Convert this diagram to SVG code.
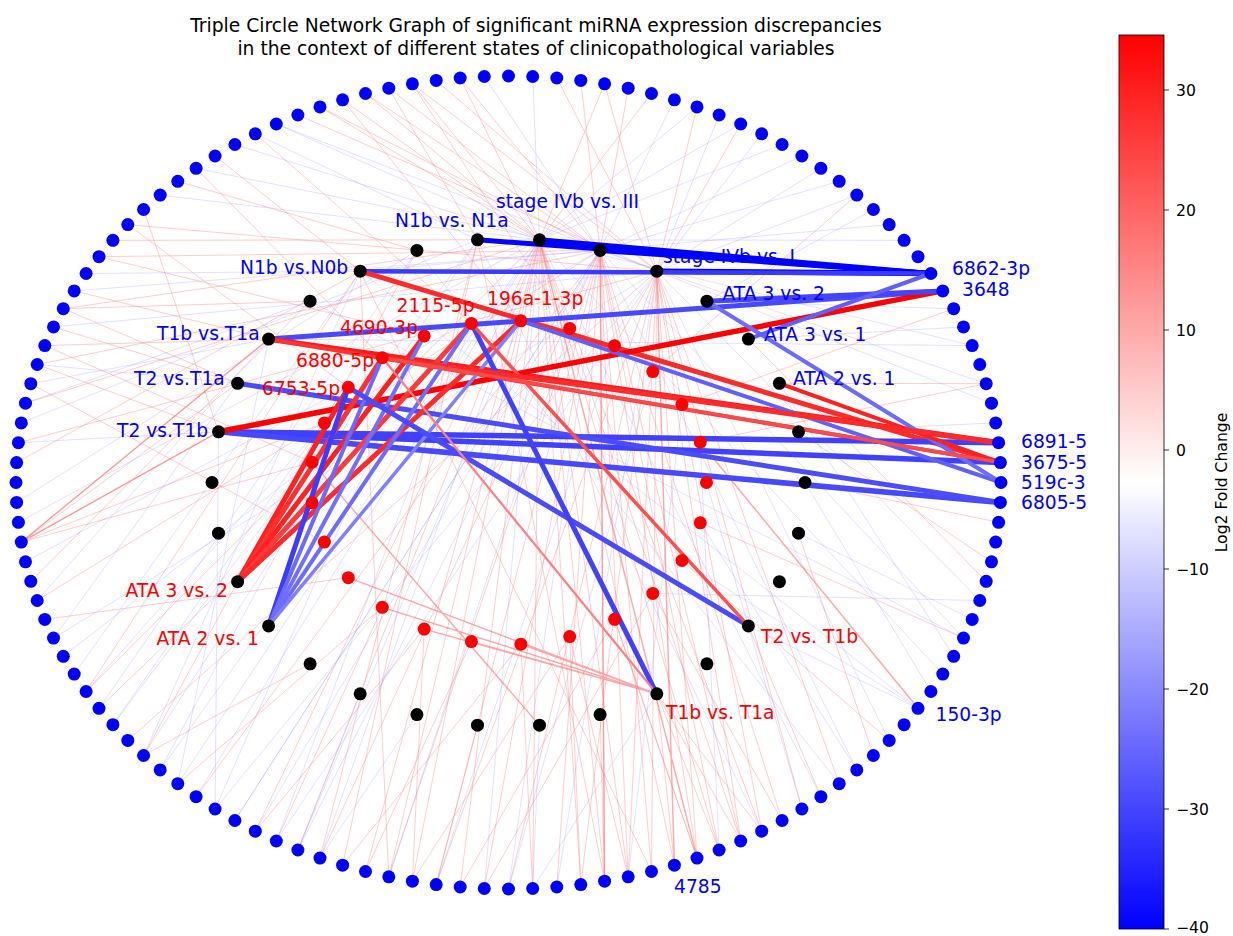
<svg xmlns="http://www.w3.org/2000/svg" width="1233" height="936" viewBox="0 0 1233 936">
<defs>
<linearGradient id="bwr" x1="0" y1="1" x2="0" y2="0">
<stop offset="0" stop-color="#0000ff"/>
<stop offset="0.5" stop-color="#ffffff"/>
<stop offset="1" stop-color="#ff0000"/>
</linearGradient>
<style>
text{font-family:"DejaVu Sans","Liberation Sans",sans-serif}
.fp{fill:none;stroke:#ff8080;stroke-opacity:0.4;stroke-width:1}
.fb{fill:none;stroke:#9a9aff;stroke-opacity:0.3;stroke-width:1}
.hv{fill:none;stroke-linecap:butt}
.o{fill:#0000ff}
.k{fill:#000000}
.r{fill:#ff0000}
.lb{font-size:18.7px;fill:#0000ff}
.lr{font-size:18.7px;fill:#ff0000}
.tk{font-size:15.6px;fill:#000}
</style>
</defs>
<rect width="1233" height="936" fill="#ffffff"/>

<g id="connectors">
<g id="faint">
<path class="fp" d="M539.5 239.8L365.5 871.5M539.5 239.8L412.4 881.2M539.5 239.8L460.2 887M539.5 239.8L532.7 888.5M539.5 239.8L580.8 884.6M539.5 239.8L628.2 876.8M539.5 239.8L674.4 865.2M539.5 239.8L719.1 850M539.5 239.8L761.7 831.2M539.5 239.8L412.4 83.8M539.5 239.8L365.5 93.5M539.5 239.8L342.6 99.8M539.5 239.8L651.5 93.5M539.5 239.8L604.6 83.8M539.5 239.8L63.3 308.7M539.5 239.8L25.5 403.2M539.5 239.8L86.1 691.5M539.5 239.8L255.3 831.2M539.5 239.8L388.8 876.8M539.5 239.8L604.6 881.2M539.5 239.8L740.7 841M539.5 239.8L460.2 78M539.5 239.8L320 106.9"/>
<path class="fp" d="M600.1 250.4L320 858.1M600.1 250.4L388.8 876.8M600.1 250.4L484.3 888.5M600.1 250.4L556.8 887M600.1 250.4L604.6 881.2M600.1 250.4L651.5 871.5M600.1 250.4L697 858.1M600.1 250.4L740.7 841M600.1 250.4L782.1 820.5M600.1 250.4L460.2 78M600.1 250.4L388.8 88.2M600.1 250.4L320 106.9M600.1 250.4L628.2 88.2M600.1 250.4L580.8 80.4M600.1 250.4L99 256.7M600.1 250.4L37.2 364.5M600.1 250.4L37.2 600.5M600.1 250.4L196.1 796.7M600.1 250.4L436.2 884.6M600.1 250.4L628.2 876.8M600.1 250.4L719.1 850M600.1 250.4L365.5 93.5"/>
<path class="fp" d="M656.8 271.2L436.2 884.6M656.8 271.2L508.5 889M656.8 271.2L580.8 884.6M656.8 271.2L628.2 876.8M656.8 271.2L697 858.1M656.8 271.2L740.7 841M656.8 271.2L801.9 809M656.8 271.2L839.2 783.7M656.8 271.2L697 106.9M656.8 271.2L556.8 78M656.8 271.2L436.2 80.4M656.8 271.2L297.9 115M656.8 271.2L127.8 224.6M656.8 271.2L18.4 442.7M656.8 271.2L127.8 740.4M656.8 271.2L651.5 871.5M656.8 271.2L761.7 831.2M656.8 271.2L604.6 83.8M656.8 271.2L412.4 83.8"/>
<path class="fb" d="M539.5 239.8L782.1 144.5M539.5 239.8L740.7 124M539.5 239.8L532.7 76.5M539.5 239.8L234.9 144.5M539.5 239.8L160.2 195.1M539.5 239.8L18.4 522.3M539.5 239.8L160.2 769.9M539.5 239.8L484.3 888.5M539.5 239.8L820.9 796.7M539.5 239.8L942.8 674.1M539.5 239.8L320 858.1M539.5 239.8L697 106.9M539.5 239.8L276.3 124"/>
<path class="fb" d="M600.1 250.4L801.9 156M600.1 250.4L674.4 99.8M600.1 250.4L484.3 76.5M600.1 250.4L196.1 168.3M600.1 250.4L74.2 290.9M600.1 250.4L25.5 561.8M600.1 250.4L234.9 820.5M600.1 250.4L508.5 889M600.1 250.4L856.8 769.9M600.1 250.4L963.5 638.1M600.1 250.4L297.9 850M600.1 250.4L839.2 181.3"/>
<path class="fb" d="M656.8 271.2L856.8 195.1M656.8 271.2L761.7 133.8M656.8 271.2L276.3 124M656.8 271.2L53.5 326.9M656.8 271.2L53.5 638.1M656.8 271.2L276.3 841M656.8 271.2L556.8 887M656.8 271.2L889.2 740.4M656.8 271.2L979.8 600.5M656.8 271.2L991.5 403.2M656.8 271.2L820.9 168.3M656.8 271.2L719.1 115"/>
<path class="fp" d="M477.5 239.8L388.8 88.2M477.5 239.8L112.9 240.3M477.5 239.8L342.6 865.2M477.5 239.8L604.6 881.2M360.2 271.2L215.1 156M360.2 271.2L16.6 462.6M360.2 271.2L388.8 876.8M360.2 271.2L651.5 871.5M268.6 339.1L44.8 345.6M268.6 339.1L21.3 542.1M218.5 431.8L21.3 542.1M218.5 431.8L143.6 209.5M237.6 383.3L21.3 542.1M237.6 383.3L53.5 326.9M416.9 250.4L177.8 181.3M310.1 301.2L63.3 308.7M748.4 339.1L986.2 581.3M779.4 383.3L986.2 383.7M798.5 431.8L991.5 561.8M805 482.5L998.6 522.3M798.5 533.2L873.4 755.5M748.4 625.9L820.9 796.7M656.8 693.8L719.1 850M656.8 693.8L740.7 841M656.8 693.8L761.7 831.2M656.8 693.8L674.4 865.2M600.1 714.6L604.6 881.2M477.5 725.2L436.2 884.6M310.1 663.8L143.6 755.5M569.7 636.6L628.2 876.8M614.6 619.3L697 858.1M424.2 629.1L412.4 881.2M520.9 644.2L532.7 888.5M382.3 607.3L276.3 841M21.3 542.1L312.1 462.2M21.3 542.1L324.4 422.9M44.8 619.4L348.3 577.7M99 708.3L312.1 502.8M177.8 783.7L382.3 607.3M255.3 831.2L424.2 629.1M44.8 345.6L312.1 462.2M30.8 383.7L324.4 542.1M127.8 224.6L348.3 387.3M196.1 168.3L382.3 357.7M99 256.7L424.2 335.9M255.3 133.8L471.4 323.4M342.6 99.8L520.9 320.8M412.4 83.8L569.7 328.4M740.7 124L614.6 345.7M856.8 195.1L652.8 371.6M953.7 308.7L682 404.5M986.2 383.7L700.3 442.2M963.5 638.1L700.3 522.8M889.2 740.4L682 560.5M782.1 820.5L652.8 593.4M697 858.1L614.6 619.3M580.8 884.6L569.7 636.6M365.5 871.5L471.4 641.6M342.6 865.2L520.9 644.2M412.4 881.2L569.7 636.6M460.2 887L614.6 619.3M484.3 888.5L652.8 593.4M74.2 290.9L268.6 339.1M63.3 308.7L237.6 383.3M37.2 364.5L218.5 431.8M30.8 581.3L310.1 301.2M86.1 691.5L360.2 271.2M143.6 755.5L416.9 250.4M297.9 850L539.5 239.8M320 858.1L477.5 239.8"/>
<path class="fb" d="M477.5 239.8L904.1 240.3M477.5 239.8L255.3 133.8M477.5 239.8L21.3 422.9M477.5 239.8L112.9 724.7M360.2 271.2L86.1 273.5M360.2 271.2L143.6 755.5M360.2 271.2L889.2 224.6M268.6 339.1L30.8 383.7M268.6 339.1L177.8 783.7M268.6 339.1L972.2 345.6M218.5 431.8L18.4 442.7M218.5 431.8L215.1 809M237.6 383.3L37.2 364.5M416.9 250.4L16.6 502.4M310.1 301.2L25.5 403.2M706.9 301.2L873.4 209.5M706.9 301.2L953.7 308.7M748.4 339.1L963.5 326.9M779.4 383.3L953.7 656.3M798.5 431.8L995.7 422.9M805 482.5L930.9 691.5M798.5 533.2L972.2 619.4M748.4 625.9L918 708.3M656.8 693.8L532.7 888.5M539.5 725.2L532.7 888.5M416.9 714.6L320 858.1M360.2 693.8L297.9 850M63.3 656.3L312.1 462.2M86.1 691.5L324.4 422.9M112.9 724.7L348.3 387.3M160.2 769.9L382.3 357.7M215.1 809L424.2 335.9M276.3 841L471.4 323.4M297.9 850L520.9 320.8M388.8 876.8L569.7 328.4M436.2 884.6L614.6 345.7M508.5 889L652.8 371.6M628.2 876.8L682 404.5M719.1 850L700.3 442.2M801.9 809L706.5 482.5M856.8 769.9L700.3 522.8M918 708.3L682 560.5M979.8 600.5L652.8 593.4M37.2 600.5L268.6 339.1M53.5 638.1L237.6 383.3M74.2 674.1L360.2 271.2M99 708.3L416.9 250.4M143.6 755.5L477.5 239.8M196.1 796.7L539.5 239.8M234.9 820.5L600.1 250.4M761.7 831.2L477.5 239.8M839.2 783.7L416.9 250.4M918 708.3L360.2 271.2M963.5 638.1L310.1 301.2M255.3 831.2L600.1 250.4M215.1 809L656.8 271.2M177.8 783.7L539.5 239.8M972.2 345.6L539.5 239.8M986.2 383.7L600.1 250.4"/>
<path fill="none" stroke="#ff8080" stroke-opacity="0.7" stroke-width="1.4" d="M312.1 462.2L539.5 725.2M382.3 607.3L656.8 693.8M424.2 629.1L656.8 693.8M348.3 577.7L656.8 693.8M471.4 641.6L656.8 693.8M520.9 644.2L656.8 693.8M700.3 442.2L918 708.3M656.8 271.2L674.4 865.2M600.1 250.4L604.6 881.2M539.5 239.8L697 858.1M21.3 542.1L218.5 431.8M21.3 542.1L268.6 339.1"/>
</g>
<g id="heavy" class="hv">
<line x1="477.5" y1="239.8" x2="930.9" y2="273.5" stroke="#0000ff" stroke-width="5"/>
<line x1="539.5" y1="239.8" x2="930.9" y2="273.5" stroke="#0000ff" stroke-width="5"/>
<line x1="600.1" y1="250.4" x2="930.9" y2="273.5" stroke="#0000ff" stroke-width="5"/>
<line x1="656.8" y1="271.2" x2="930.9" y2="273.5" stroke="#0000ff" stroke-width="5.5"/>
<line x1="360.2" y1="271.2" x2="930.9" y2="273.5" stroke="#3a3aff" stroke-width="4.5"/>
<line x1="360.2" y1="271.2" x2="1000.4" y2="462.6" stroke="#ff2a2a" stroke-width="5"/>
<line x1="268.6" y1="339.1" x2="942.8" y2="290.9" stroke="#4848ff" stroke-width="5"/>
<line x1="268.6" y1="339.1" x2="998.6" y2="442.7" stroke="#ff1a1a" stroke-width="5.5"/>
<line x1="268.6" y1="339.1" x2="1000.4" y2="462.6" stroke="#ff3434" stroke-width="4"/>
<line x1="218.5" y1="431.8" x2="998.6" y2="442.7" stroke="#4040ff" stroke-width="5.5"/>
<line x1="218.5" y1="431.8" x2="1000.4" y2="462.6" stroke="#4040ff" stroke-width="5.5"/>
<line x1="218.5" y1="431.8" x2="1000.4" y2="502.4" stroke="#4848ff" stroke-width="5.5"/>
<line x1="218.5" y1="431.8" x2="942.8" y2="290.9" stroke="#ff0000" stroke-width="5.5"/>
<line x1="237.6" y1="383.3" x2="1000.4" y2="502.4" stroke="#4c4cff" stroke-width="5"/>
<line x1="237.6" y1="581.7" x2="348.3" y2="387.3" stroke="#ff2020" stroke-width="5"/>
<line x1="237.6" y1="581.7" x2="382.3" y2="357.7" stroke="#ff3030" stroke-width="5"/>
<line x1="237.6" y1="581.7" x2="424.2" y2="335.9" stroke="#ff2020" stroke-width="5"/>
<line x1="237.6" y1="581.7" x2="471.4" y2="323.4" stroke="#ff3a3a" stroke-width="5"/>
<line x1="237.6" y1="581.7" x2="520.9" y2="320.8" stroke="#ff2a2a" stroke-width="5"/>
<line x1="268.6" y1="625.9" x2="348.3" y2="387.3" stroke="#3c3cff" stroke-width="5"/>
<line x1="268.6" y1="625.9" x2="382.3" y2="357.7" stroke="#6a6aff" stroke-width="4"/>
<line x1="268.6" y1="625.9" x2="424.2" y2="335.9" stroke="#7070ff" stroke-width="4"/>
<line x1="268.6" y1="625.9" x2="471.4" y2="323.4" stroke="#6c6cff" stroke-width="4"/>
<line x1="268.6" y1="625.9" x2="520.9" y2="320.8" stroke="#8080ff" stroke-width="3.5"/>
<line x1="348.3" y1="387.3" x2="748.4" y2="625.9" stroke="#4a4aff" stroke-width="5"/>
<line x1="471.4" y1="323.4" x2="656.8" y2="693.8" stroke="#4040ff" stroke-width="5"/>
<line x1="471.4" y1="323.4" x2="748.4" y2="625.9" stroke="#ff5050" stroke-width="3.5"/>
<line x1="382.3" y1="357.7" x2="656.8" y2="693.8" stroke="#ff8080" stroke-width="2.2"/>
<line x1="520.9" y1="320.8" x2="1001" y2="482.5" stroke="#6060ff" stroke-width="4"/>
<line x1="706.9" y1="301.2" x2="1001" y2="482.5" stroke="#6b6bff" stroke-width="4"/>
<line x1="706.9" y1="301.2" x2="942.8" y2="290.9" stroke="#4444ff" stroke-width="5"/>
<line x1="748.4" y1="339.1" x2="930.9" y2="273.5" stroke="#6060ff" stroke-width="4"/>
<line x1="779.4" y1="383.3" x2="1000.4" y2="462.6" stroke="#ff2020" stroke-width="4"/>
<line x1="382.3" y1="357.7" x2="998.6" y2="442.7" stroke="#ff2a2a" stroke-width="5"/>
<line x1="382.3" y1="357.7" x2="1000.4" y2="462.6" stroke="#ff4a4a" stroke-width="3.5"/>
</g>
</g>

<g id="outer-nodes">
<circle class="o" r="6.5" cx="1001" cy="482.5"/><circle class="o" r="6.5" cx="1000.4" cy="462.6"/><circle class="o" r="6.5" cx="998.6" cy="442.7"/><circle class="o" r="6.5" cx="995.7" cy="422.9"/><circle class="o" r="6.5" cx="991.5" cy="403.2"/><circle class="o" r="6.5" cx="986.2" cy="383.7"/><circle class="o" r="6.5" cx="979.8" cy="364.5"/><circle class="o" r="6.5" cx="972.2" cy="345.6"/><circle class="o" r="6.5" cx="963.5" cy="326.9"/><circle class="o" r="6.5" cx="953.7" cy="308.7"/><circle class="o" r="6.5" cx="942.8" cy="290.9"/><circle class="o" r="6.5" cx="930.9" cy="273.5"/><circle class="o" r="6.5" cx="918" cy="256.7"/><circle class="o" r="6.5" cx="904.1" cy="240.3"/><circle class="o" r="6.5" cx="889.2" cy="224.6"/><circle class="o" r="6.5" cx="873.4" cy="209.5"/><circle class="o" r="6.5" cx="856.8" cy="195.1"/><circle class="o" r="6.5" cx="839.2" cy="181.3"/><circle class="o" r="6.5" cx="820.9" cy="168.3"/><circle class="o" r="6.5" cx="801.9" cy="156"/><circle class="o" r="6.5" cx="782.1" cy="144.5"/><circle class="o" r="6.5" cx="761.7" cy="133.8"/><circle class="o" r="6.5" cx="740.7" cy="124"/><circle class="o" r="6.5" cx="719.1" cy="115"/><circle class="o" r="6.5" cx="697" cy="106.9"/><circle class="o" r="6.5" cx="674.4" cy="99.8"/><circle class="o" r="6.5" cx="651.5" cy="93.5"/><circle class="o" r="6.5" cx="628.2" cy="88.2"/><circle class="o" r="6.5" cx="604.6" cy="83.8"/><circle class="o" r="6.5" cx="580.8" cy="80.4"/><circle class="o" r="6.5" cx="556.8" cy="78"/><circle class="o" r="6.5" cx="532.7" cy="76.5"/><circle class="o" r="6.5" cx="508.5" cy="76"/>
<circle class="o" r="6.5" cx="484.3" cy="76.5"/><circle class="o" r="6.5" cx="460.2" cy="78"/><circle class="o" r="6.5" cx="436.2" cy="80.4"/><circle class="o" r="6.5" cx="412.4" cy="83.8"/><circle class="o" r="6.5" cx="388.8" cy="88.2"/><circle class="o" r="6.5" cx="365.5" cy="93.5"/><circle class="o" r="6.5" cx="342.6" cy="99.8"/><circle class="o" r="6.5" cx="320" cy="106.9"/><circle class="o" r="6.5" cx="297.9" cy="115"/><circle class="o" r="6.5" cx="276.3" cy="124"/><circle class="o" r="6.5" cx="255.3" cy="133.8"/><circle class="o" r="6.5" cx="234.9" cy="144.5"/><circle class="o" r="6.5" cx="215.1" cy="156"/><circle class="o" r="6.5" cx="196.1" cy="168.3"/><circle class="o" r="6.5" cx="177.8" cy="181.3"/><circle class="o" r="6.5" cx="160.2" cy="195.1"/><circle class="o" r="6.5" cx="143.6" cy="209.5"/><circle class="o" r="6.5" cx="127.8" cy="224.6"/><circle class="o" r="6.5" cx="112.9" cy="240.3"/><circle class="o" r="6.5" cx="99" cy="256.7"/><circle class="o" r="6.5" cx="86.1" cy="273.5"/><circle class="o" r="6.5" cx="74.2" cy="290.9"/><circle class="o" r="6.5" cx="63.3" cy="308.7"/><circle class="o" r="6.5" cx="53.5" cy="326.9"/><circle class="o" r="6.5" cx="44.8" cy="345.6"/><circle class="o" r="6.5" cx="37.2" cy="364.5"/><circle class="o" r="6.5" cx="30.8" cy="383.7"/><circle class="o" r="6.5" cx="25.5" cy="403.2"/><circle class="o" r="6.5" cx="21.3" cy="422.9"/><circle class="o" r="6.5" cx="18.4" cy="442.7"/><circle class="o" r="6.5" cx="16.6" cy="462.6"/><circle class="o" r="6.5" cx="16" cy="482.5"/>
<circle class="o" r="6.5" cx="16.6" cy="502.4"/><circle class="o" r="6.5" cx="18.4" cy="522.3"/><circle class="o" r="6.5" cx="21.3" cy="542.1"/><circle class="o" r="6.5" cx="25.5" cy="561.8"/><circle class="o" r="6.5" cx="30.8" cy="581.3"/><circle class="o" r="6.5" cx="37.2" cy="600.5"/><circle class="o" r="6.5" cx="44.8" cy="619.4"/><circle class="o" r="6.5" cx="53.5" cy="638.1"/><circle class="o" r="6.5" cx="63.3" cy="656.3"/><circle class="o" r="6.5" cx="74.2" cy="674.1"/><circle class="o" r="6.5" cx="86.1" cy="691.5"/><circle class="o" r="6.5" cx="99" cy="708.3"/><circle class="o" r="6.5" cx="112.9" cy="724.7"/><circle class="o" r="6.5" cx="127.8" cy="740.4"/><circle class="o" r="6.5" cx="143.6" cy="755.5"/><circle class="o" r="6.5" cx="160.2" cy="769.9"/><circle class="o" r="6.5" cx="177.8" cy="783.7"/><circle class="o" r="6.5" cx="196.1" cy="796.7"/><circle class="o" r="6.5" cx="215.1" cy="809"/><circle class="o" r="6.5" cx="234.9" cy="820.5"/><circle class="o" r="6.5" cx="255.3" cy="831.2"/><circle class="o" r="6.5" cx="276.3" cy="841"/><circle class="o" r="6.5" cx="297.9" cy="850"/><circle class="o" r="6.5" cx="320" cy="858.1"/><circle class="o" r="6.5" cx="342.6" cy="865.2"/><circle class="o" r="6.5" cx="365.5" cy="871.5"/><circle class="o" r="6.5" cx="388.8" cy="876.8"/><circle class="o" r="6.5" cx="412.4" cy="881.2"/><circle class="o" r="6.5" cx="436.2" cy="884.6"/><circle class="o" r="6.5" cx="460.2" cy="887"/><circle class="o" r="6.5" cx="484.3" cy="888.5"/><circle class="o" r="6.5" cx="508.5" cy="889"/>
<circle class="o" r="6.5" cx="532.7" cy="888.5"/><circle class="o" r="6.5" cx="556.8" cy="887"/><circle class="o" r="6.5" cx="580.8" cy="884.6"/><circle class="o" r="6.5" cx="604.6" cy="881.2"/><circle class="o" r="6.5" cx="628.2" cy="876.8"/><circle class="o" r="6.5" cx="651.5" cy="871.5"/><circle class="o" r="6.5" cx="674.4" cy="865.2"/><circle class="o" r="6.5" cx="697" cy="858.1"/><circle class="o" r="6.5" cx="719.1" cy="850"/><circle class="o" r="6.5" cx="740.7" cy="841"/><circle class="o" r="6.5" cx="761.7" cy="831.2"/><circle class="o" r="6.5" cx="782.1" cy="820.5"/><circle class="o" r="6.5" cx="801.9" cy="809"/><circle class="o" r="6.5" cx="820.9" cy="796.7"/><circle class="o" r="6.5" cx="839.2" cy="783.7"/><circle class="o" r="6.5" cx="856.8" cy="769.9"/><circle class="o" r="6.5" cx="873.4" cy="755.5"/><circle class="o" r="6.5" cx="889.2" cy="740.4"/><circle class="o" r="6.5" cx="904.1" cy="724.7"/><circle class="o" r="6.5" cx="918" cy="708.3"/><circle class="o" r="6.5" cx="930.9" cy="691.5"/><circle class="o" r="6.5" cx="942.8" cy="674.1"/><circle class="o" r="6.5" cx="953.7" cy="656.3"/><circle class="o" r="6.5" cx="963.5" cy="638.1"/><circle class="o" r="6.5" cx="972.2" cy="619.4"/><circle class="o" r="6.5" cx="979.8" cy="600.5"/><circle class="o" r="6.5" cx="986.2" cy="581.3"/><circle class="o" r="6.5" cx="991.5" cy="561.8"/><circle class="o" r="6.5" cx="995.7" cy="542.1"/><circle class="o" r="6.5" cx="998.6" cy="522.3"/><circle class="o" r="6.5" cx="1000.4" cy="502.4"/>
</g>

<g id="comparison-nodes">
<circle class="k" r="6.5" cx="805" cy="482.5"/><circle class="k" r="6.5" cx="798.5" cy="431.8"/><circle class="k" r="6.5" cx="779.4" cy="383.3"/><circle class="k" r="6.5" cx="748.4" cy="339.1"/><circle class="k" r="6.5" cx="706.9" cy="301.2"/><circle class="k" r="6.5" cx="656.8" cy="271.2"/><circle class="k" r="6.5" cx="600.1" cy="250.4"/><circle class="k" r="6.5" cx="539.5" cy="239.8"/><circle class="k" r="6.5" cx="477.5" cy="239.8"/><circle class="k" r="6.5" cx="416.9" cy="250.4"/><circle class="k" r="6.5" cx="360.2" cy="271.2"/><circle class="k" r="6.5" cx="310.1" cy="301.2"/><circle class="k" r="6.5" cx="268.6" cy="339.1"/><circle class="k" r="6.5" cx="237.6" cy="383.3"/><circle class="k" r="6.5" cx="218.5" cy="431.8"/><circle class="k" r="6.5" cx="212" cy="482.5"/><circle class="k" r="6.5" cx="218.5" cy="533.2"/><circle class="k" r="6.5" cx="237.6" cy="581.7"/><circle class="k" r="6.5" cx="268.6" cy="625.9"/><circle class="k" r="6.5" cx="310.1" cy="663.8"/><circle class="k" r="6.5" cx="360.2" cy="693.8"/><circle class="k" r="6.5" cx="416.9" cy="714.6"/><circle class="k" r="6.5" cx="477.5" cy="725.2"/><circle class="k" r="6.5" cx="539.5" cy="725.2"/><circle class="k" r="6.5" cx="600.1" cy="714.6"/><circle class="k" r="6.5" cx="656.8" cy="693.8"/><circle class="k" r="6.5" cx="706.9" cy="663.8"/><circle class="k" r="6.5" cx="748.4" cy="625.9"/><circle class="k" r="6.5" cx="779.4" cy="581.7"/><circle class="k" r="6.5" cx="798.5" cy="533.2"/>
</g>

<g id="inner-nodes">
<circle class="r" r="6.5" cx="706.5" cy="482.5"/><circle class="r" r="6.5" cx="700.3" cy="442.2"/><circle class="r" r="6.5" cx="682" cy="404.5"/><circle class="r" r="6.5" cx="652.8" cy="371.6"/><circle class="r" r="6.5" cx="614.6" cy="345.7"/><circle class="r" r="6.5" cx="569.7" cy="328.4"/><circle class="r" r="6.5" cx="520.9" cy="320.8"/><circle class="r" r="6.5" cx="471.4" cy="323.4"/><circle class="r" r="6.5" cx="424.2" cy="335.9"/><circle class="r" r="6.5" cx="382.3" cy="357.7"/><circle class="r" r="6.5" cx="348.3" cy="387.3"/><circle class="r" r="6.5" cx="324.4" cy="422.9"/><circle class="r" r="6.5" cx="312.1" cy="462.2"/><circle class="r" r="6.5" cx="312.1" cy="502.8"/><circle class="r" r="6.5" cx="324.4" cy="542.1"/><circle class="r" r="6.5" cx="348.3" cy="577.7"/><circle class="r" r="6.5" cx="382.3" cy="607.3"/><circle class="r" r="6.5" cx="424.2" cy="629.1"/><circle class="r" r="6.5" cx="471.4" cy="641.6"/><circle class="r" r="6.5" cx="520.9" cy="644.2"/><circle class="r" r="6.5" cx="569.7" cy="636.6"/><circle class="r" r="6.5" cx="614.6" cy="619.3"/><circle class="r" r="6.5" cx="652.8" cy="593.4"/><circle class="r" r="6.5" cx="682" cy="560.5"/><circle class="r" r="6.5" cx="700.3" cy="522.8"/>
</g>

<g id="labels">
<text class="lb" x="496" y="208">stage IVb vs. III</text>
<text class="lb" x="395" y="227">N1b vs. N1a</text>
<text class="lb" x="240" y="274">N1b vs.N0b</text>
<text class="lb" x="157" y="340">T1b vs.T1a</text>
<text class="lb" x="134" y="385">T2 vs.T1a</text>
<text class="lb" x="117" y="436.5">T2 vs.T1b</text>
<text class="lb" x="663" y="263">stage IVb vs. I</text>
<text class="lb" x="722.5" y="300">ATA 3 vs. 2</text>
<text class="lb" x="764" y="340.5">ATA 3 vs. 1</text>
<text class="lb" x="793" y="385">ATA 2 vs. 1</text>
<text class="lb" x="952" y="275">6862-3p</text>
<text class="lb" x="962" y="296">3648</text>
<text class="lb" x="1021" y="448">6891-5</text>
<text class="lb" x="1021" y="469">3675-5</text>
<text class="lb" x="1021" y="489">519c-3</text>
<text class="lb" x="1021" y="509">6805-5</text>
<text class="lb" x="935.5" y="720.5">150-3p</text>
<text class="lb" x="674" y="892.5">4785</text>
<text class="lr" x="396.5" y="311.5">2115-5p</text>
<text class="lr" x="487" y="305">196a-1-3p</text>
<text class="lr" x="340" y="334">4690-3p</text>
<text class="lr" x="296" y="366.5">6880-5p</text>
<text class="lr" x="262" y="395">6753-5p</text>
<text class="lr" x="125.5" y="596.5">ATA 3 vs. 2</text>
<text class="lr" x="156.5" y="645">ATA 2 vs. 1</text>
<text class="lr" x="761" y="642.5">T2 vs. T1b</text>
<text class="lr" x="666" y="718.5">T1b vs. T1a</text>
</g>

<g id="title">
<text x="536" y="32" font-size="18.7" text-anchor="middle" fill="#000">Triple Circle Network Graph of significant miRNA expression discrepancies</text>
<text x="536" y="54.5" font-size="18.7" text-anchor="middle" fill="#000">in the context of different states of clinicopathological variables</text>
</g>

<g id="colorbar">
<rect x="1119" y="35" width="45" height="894" fill="url(#bwr)" stroke="#000" stroke-width="0.8"/>
<path d="M1164 90h5M1164 210h5M1164 330h5M1164 450h5M1164 569h5M1164 689h5M1164 809h5M1164 929h5" stroke="#000" stroke-width="0.8"/>
<text class="tk" x="1176" y="95.7">30</text>
<text class="tk" x="1176" y="215.7">20</text>
<text class="tk" x="1176" y="335.7">10</text>
<text class="tk" x="1176" y="455.7">0</text>
<text class="tk" x="1176" y="574.7">−10</text>
<text class="tk" x="1176" y="694.7">−20</text>
<text class="tk" x="1176" y="814.7">−30</text>
<text class="tk" x="1176" y="933">−40</text>
<text x="1227" y="482.5" font-size="15.6" text-anchor="middle" fill="#000" transform="rotate(-90 1227 482.5)">Log2 Fold Change</text>
</g>
</svg>
